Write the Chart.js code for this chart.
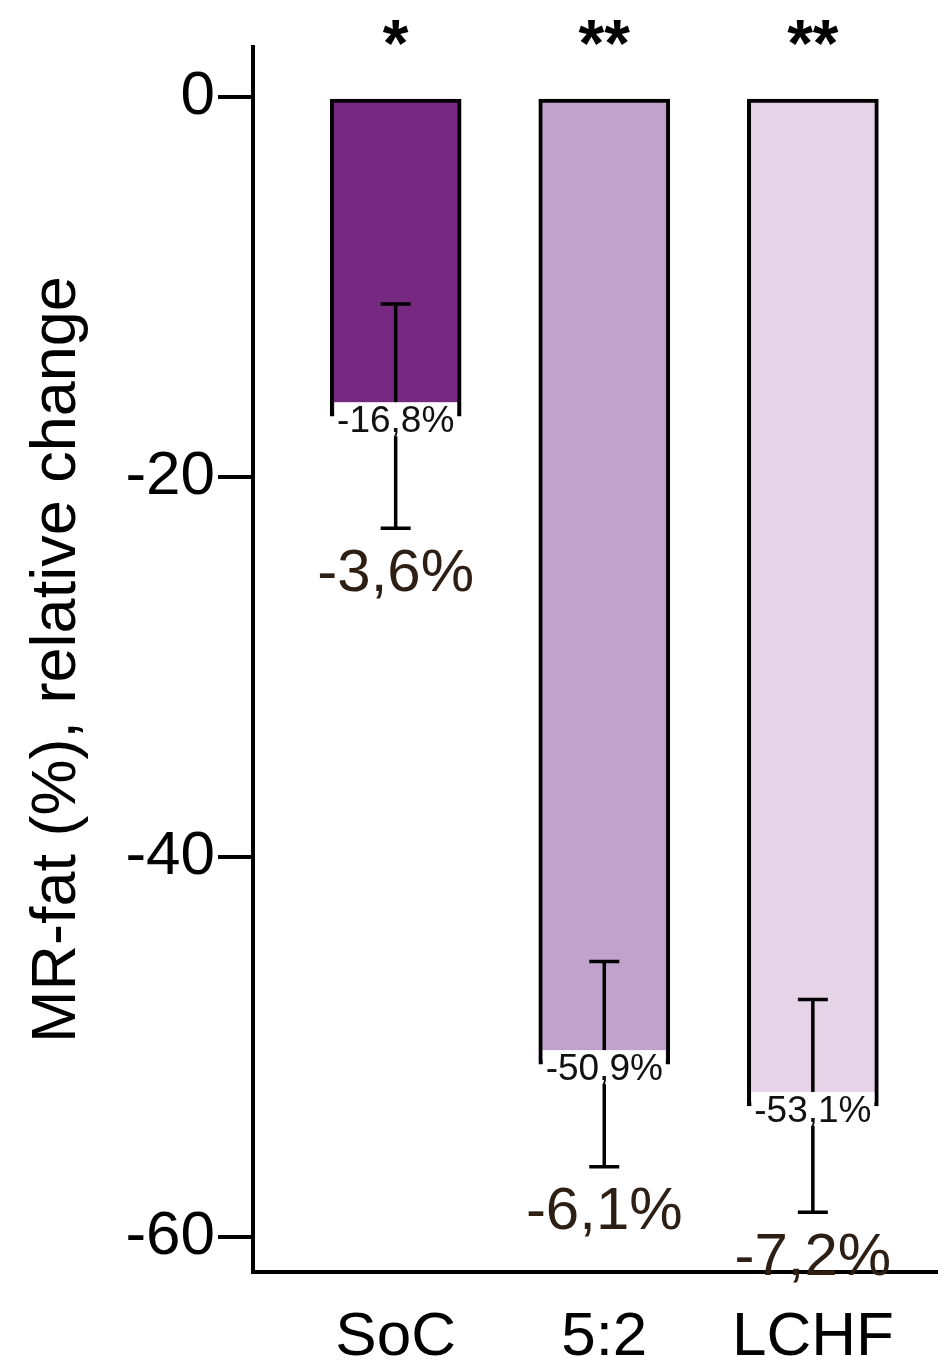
<!DOCTYPE html>
<html lang="en">
<head>
  <meta charset="UTF-8">
  <title>MR-fat relative change</title>
  <script src="https://cdn.jsdelivr.net/npm/chart.js"></script>
  <style>
    html, body { margin: 0; padding: 0; background: #fff; }
    #wrap { width: 938px; height: 1371px; }
  </style>
</head>
<body>
  <div id="wrap"><canvas id="fatChart" width="938" height="1371"></canvas></div>

  <script>
    // Groups and measured values
    const groups = ['SoC', '5:2', 'LCHF'];
    const meanChange = [-16.8, -50.9, -53.1];
    const errors = [5.9, 5.4, 5.6];
    const changeLabels = ['-3,6%', '-6,1%', '-7,2%'];
    const stars = ['*', '**', '**'];
    const yTicks = [0, -20, -40, -60];

    const barColors = ['#772982', '#c0a2cd', '#e6d3e8'];
    const FONT = '"Liberation Sans", Arial, Helvetica, sans-serif';

    const fmt = v => v.toFixed(1).replace('.', ',') + '%';

    // error bars, value boxes, change labels and significance stars
    const annotations = {
      id: 'annotations',
      afterDatasetsDraw(chart) {
        const ctx = chart.ctx;
        const x = chart.scales.x;
        const y = chart.scales.y;
        const meta = chart.getDatasetMeta(0);
        ctx.save();

        meta.data.forEach((bar, i) => {
          const cx = x.getPixelForValue(i);
          const hi = y.getPixelForValue(meanChange[i] + errors[i]);
          const lo = y.getPixelForValue(meanChange[i] - errors[i]);
          ctx.strokeStyle = '#000';
          ctx.lineWidth = 3.5;
          ctx.beginPath();
          ctx.moveTo(cx, hi); ctx.lineTo(cx, lo);
          ctx.moveTo(cx - 15, hi); ctx.lineTo(cx + 15, hi);
          ctx.moveTo(cx - 15, lo); ctx.lineTo(cx + 15, lo);
          ctx.stroke();
        });

        meta.data.forEach((bar, i) => {
          const cx = x.getPixelForValue(i);
          const bottom = y.getPixelForValue(meanChange[i]);
          const half = bar.width / 2 - 4;
          ctx.fillStyle = '#fff';
          ctx.fillRect(cx - half, bottom - 14, half * 2, 34);
          ctx.fillStyle = '#111';
          ctx.font = '37px ' + FONT;
          ctx.textAlign = 'center';
          ctx.textBaseline = 'middle';
          ctx.fillText(fmt(meanChange[i]), cx, bottom + 6);

          const lo = y.getPixelForValue(meanChange[i] - errors[i]);
          ctx.fillStyle = '#2e1f14';
          ctx.font = '60px ' + FONT;
          ctx.fillText(changeLabels[i], cx, lo + 46);

          const top = y.getPixelForValue(0);
          ctx.fillStyle = '#000';
          ctx.font = 'bold 66px ' + FONT;
          ctx.textBaseline = 'alphabetic';
          ctx.fillText(stars[i], cx, top - 31);
        });
        ctx.restore();
      }
    };

    new Chart(document.getElementById('fatChart'), {
      type: 'bar',
      data: {
        datasets: [{
          data: meanChange.map((v, i) => ({ x: i, y: v })),
          backgroundColor: barColors,
          borderColor: '#000',
          borderWidth: 4,
          borderSkipped: false,
          barThickness: 131
        }]
      },
      options: {
        responsive: false,
        animation: false,
        layout: { padding: { top: 47, left: 0, right: 0, bottom: 0 } },
        plugins: { legend: { display: false }, tooltip: { enabled: false } },
        scales: {
          x: {
            type: 'linear',
            offset: false,
            min: -0.684,
            max: 2.6,
            afterFit: s => { s.height = 99; },
            afterBuildTicks: s => { s.ticks = groups.map((g, i) => ({ value: i })); },
            grid: { display: false, drawTicks: false },
            border: { display: true, color: '#000', width: 4 },
            ticks: {
              padding: 29,
              color: '#000',
              font: { family: FONT, size: 62 },
              callback: v => groups[v]
            }
          },
          y: {
            min: -61.84,
            max: 2.63,
            afterFit: s => { s.width = 253; },
            afterBuildTicks: s => { s.ticks = yTicks.map(v => ({ value: v })); },
            grid: { drawOnChartArea: false, drawTicks: true, tickLength: 35, color: '#000', lineWidth: 4 },
            border: { display: true, color: '#000', width: 4 },
            ticks: {
              padding: 3,
              color: '#000',
              font: { family: FONT, size: 62 }
            },
            title: {
              display: true,
              text: 'MR-fat (%), relative change',
              color: '#000',
              font: { family: FONT, size: 63 },
              padding: { top: 20, bottom: 0 }
            }
          }
        }
      },
      plugins: [annotations]
    });
  </script>
</body>
</html>
